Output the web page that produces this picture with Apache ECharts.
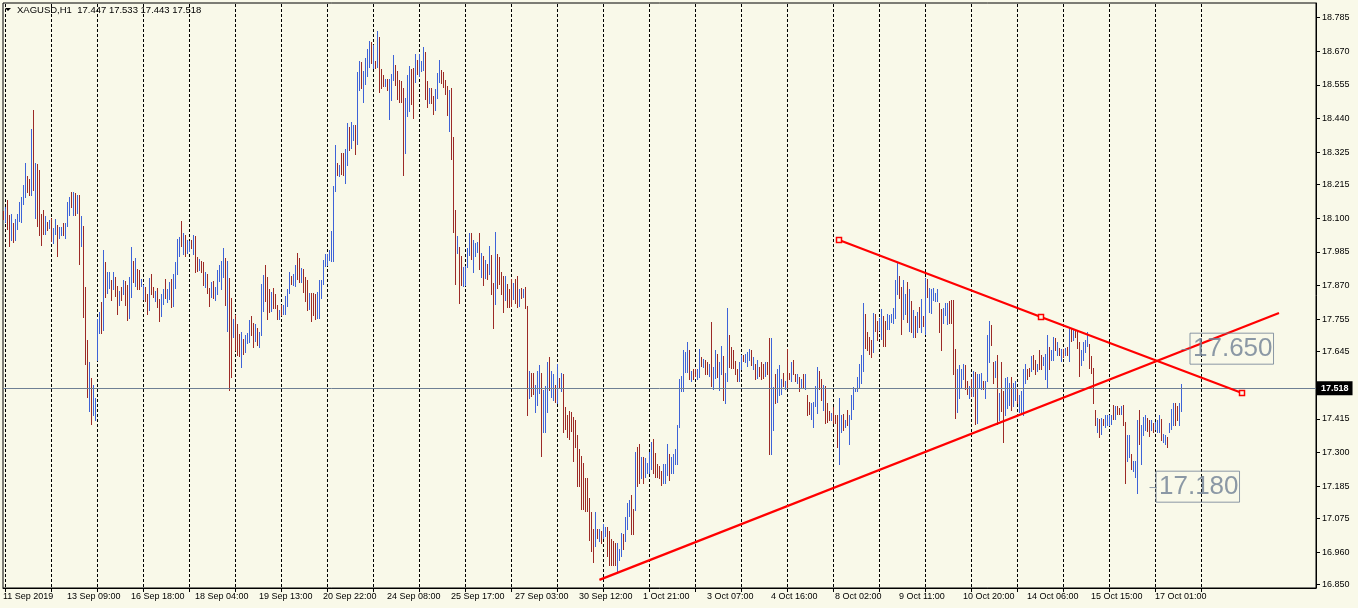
<!DOCTYPE html>
<html><head><meta charset="utf-8">
<script src="https://cdn.jsdelivr.net/npm/echarts@6/dist/echarts.min.js"></script>
<style>html,body{margin:0;padding:0;background:#F9F9E9;}#c{width:1358px;height:608px;}</style>
</head><body><div id="c"></div>
<script>
const headerText = 'XAGUSD,H1  17.447 17.533 17.443 17.518';
const bidPrice = 17.518;
const highs = [
18.126,18.140,18.164,18.112,18.115,18.085,18.098,18.115,18.157,18.174,
18.215,18.290,18.246,18.235,18.405,18.471,18.290,18.286,18.266,18.115,
18.129,18.109,18.088,18.095,18.102,18.068,18.098,18.078,18.071,18.071,
18.085,18.085,18.157,18.171,18.191,18.191,18.188,18.181,18.181,18.109,
18.075,17.867,17.686,17.608,17.556,17.532,17.485,17.757,17.781,17.815,
17.993,17.952,17.918,17.918,17.891,17.918,17.901,17.870,17.853,17.867,
17.891,17.887,17.874,17.901,18.003,17.955,17.966,17.928,17.925,17.894,
17.874,17.867,17.843,17.897,17.911,17.867,17.853,17.863,17.826,17.843,
17.857,17.894,17.860,17.884,17.894,17.911,17.952,18.030,18.037,18.092,
18.051,18.044,18.027,18.024,18.027,18.044,18.041,17.969,17.962,17.955,
17.952,17.915,17.911,17.863,17.884,17.887,17.867,17.925,17.942,17.955,
17.999,17.966,17.955,17.897,17.829,17.757,17.771,17.740,17.706,17.713,
17.689,17.703,17.710,17.754,17.768,17.744,17.740,17.727,17.713,17.877,
17.908,17.942,17.901,17.860,17.850,17.863,17.840,17.805,17.788,17.805,
17.805,17.836,17.860,17.918,17.904,17.911,17.942,17.983,17.966,17.932,
17.928,17.901,17.891,17.846,17.846,17.846,17.843,17.850,17.891,17.891,
17.959,17.979,17.979,17.993,18.058,18.211,18.351,18.290,18.283,18.324,
18.324,18.337,18.426,18.413,18.430,18.419,18.419,18.600,18.638,18.634,
18.604,18.648,18.679,18.706,18.703,18.692,18.638,18.740,18.720,18.611,
18.590,18.576,18.576,18.576,18.594,18.658,18.624,18.604,18.573,18.570,
18.546,18.512,18.590,18.621,18.610,18.614,18.662,18.641,18.662,18.638,
18.686,18.669,18.570,18.546,18.546,18.519,18.542,18.597,18.641,18.607,
18.600,18.573,18.553,18.539,18.546,18.379,18.129,18.041,18.003,17.973,
17.935,17.938,17.999,18.051,18.051,18.027,18.017,18.020,18.051,17.983,
17.973,17.959,17.945,18.007,17.976,17.880,18.054,17.979,17.969,17.915,
17.904,17.904,17.877,17.860,17.894,17.880,17.894,17.904,17.857,17.863,
17.860,17.867,17.802,17.580,17.573,17.573,17.532,17.580,17.601,17.573,
17.515,17.529,17.611,17.628,17.580,17.570,17.532,17.604,17.556,17.573,
17.570,17.457,17.430,17.444,17.440,17.423,17.410,17.362,17.314,17.290,
17.266,17.215,17.215,17.147,17.099,17.038,17.099,17.038,17.038,17.034,
17.058,17.048,17.048,17.034,17.004,16.997,16.993,16.993,16.973,17.027,
17.021,17.079,17.130,17.137,17.157,17.109,17.304,17.321,17.328,17.287,
17.287,17.283,17.266,17.304,17.335,17.348,17.300,17.263,17.256,17.239,
17.263,17.260,17.328,17.297,17.287,17.297,17.314,17.396,17.553,17.563,
17.652,17.645,17.679,17.649,17.580,17.584,17.587,17.584,17.655,17.625,
17.621,17.618,17.608,17.604,17.747,17.594,17.649,17.638,17.608,17.665,
17.631,17.573,17.795,17.700,17.662,17.649,17.614,17.587,17.611,17.635,
17.635,17.638,17.645,17.655,17.649,17.625,17.604,17.618,17.594,17.611,
17.604,17.611,17.611,17.693,17.693,17.525,17.570,17.584,17.601,17.550,
17.573,17.543,17.655,17.573,17.608,17.618,17.570,17.567,17.560,17.553,
17.570,17.570,17.498,17.474,17.471,17.474,17.529,17.594,17.580,17.550,
17.532,17.529,17.468,17.444,17.437,17.457,17.427,17.427,17.485,17.430,
17.433,17.413,17.447,17.430,17.498,17.525,17.522,17.560,17.604,17.635,
17.812,17.774,17.713,17.696,17.686,17.778,17.774,17.751,17.761,17.792,
17.768,17.751,17.774,17.771,17.774,17.795,17.891,17.949,17.904,17.867,
17.891,17.840,17.884,17.857,17.819,17.788,17.768,17.781,17.798,17.826,
17.768,17.897,17.894,17.863,17.857,17.863,17.846,17.860,17.812,17.792,
17.795,17.812,17.812,17.819,17.822,17.822,17.655,17.587,17.601,17.584,
17.604,17.601,17.543,17.529,17.550,17.580,17.577,17.570,17.567,17.573,
17.546,17.546,17.700,17.751,17.737,17.611,17.614,17.635,17.505,17.608,
17.509,17.556,17.560,17.539,17.560,17.539,17.543,17.519,17.498,17.509,
17.584,17.604,17.587,17.590,17.631,17.635,17.618,17.604,17.652,17.635,
17.628,17.638,17.703,17.662,17.649,17.696,17.693,17.679,17.659,17.655,
17.655,17.659,17.662,17.727,17.723,17.720,17.717,17.717,17.679,17.649,
17.679,17.686,17.713,17.672,17.631,17.590,17.447,17.420,17.416,17.420,
17.416,17.430,17.430,17.430,17.430,17.464,17.461,17.461,17.454,17.461,
17.464,17.406,17.362,17.362,17.294,17.270,17.273,17.413,17.447,17.396,
17.423,17.427,17.420,17.413,17.410,17.403,17.406,17.410,17.427,17.416,
17.365,17.362,17.355,17.403,17.450,17.468,17.468,17.461,17.471,17.533];
const lows = [
18.098,18.088,18.064,18.007,18.027,18.020,18.027,18.064,18.092,18.088,
18.150,18.171,18.191,18.178,18.178,18.198,18.102,18.075,18.044,18.010,
18.047,18.047,18.061,18.068,18.024,18.017,18.047,17.973,18.034,18.044,
18.044,18.034,18.075,18.112,18.137,18.112,18.112,18.119,17.945,18.007,
17.764,17.604,17.491,17.444,17.399,17.430,17.410,17.618,17.710,17.710,
17.720,17.833,17.846,17.863,17.822,17.857,17.836,17.774,17.805,17.822,
17.840,17.805,17.754,17.761,17.833,17.884,17.870,17.860,17.857,17.870,
17.826,17.819,17.774,17.788,17.840,17.833,17.819,17.798,17.751,17.768,
17.809,17.829,17.815,17.826,17.798,17.802,17.863,17.911,17.973,18.007,
17.979,17.973,17.983,17.990,18.000,17.979,17.915,17.921,17.925,17.918,
17.874,17.867,17.846,17.802,17.833,17.829,17.822,17.843,17.887,17.857,
17.901,17.805,17.717,17.515,17.560,17.696,17.652,17.635,17.631,17.594,
17.638,17.645,17.676,17.679,17.700,17.662,17.682,17.669,17.662,17.700,
17.785,17.819,17.757,17.781,17.785,17.795,17.795,17.757,17.757,17.771,
17.774,17.774,17.802,17.846,17.877,17.874,17.870,17.894,17.884,17.884,
17.850,17.819,17.788,17.792,17.751,17.771,17.757,17.761,17.761,17.829,
17.877,17.938,17.942,17.959,17.955,17.955,18.194,18.249,18.246,18.252,
18.249,18.222,18.283,18.334,18.341,18.368,18.320,18.355,18.539,18.546,
18.498,18.559,18.587,18.617,18.631,18.614,18.614,18.617,18.532,18.546,
18.553,18.553,18.539,18.440,18.505,18.573,18.556,18.508,18.498,18.498,
18.249,18.324,18.450,18.467,18.491,18.443,18.566,18.594,18.587,18.604,
18.607,18.508,18.481,18.495,18.495,18.457,18.471,18.512,18.566,18.563,
18.549,18.525,18.454,18.399,18.303,18.054,17.877,17.983,17.812,17.874,
17.870,17.874,17.935,17.976,17.962,17.918,17.973,17.986,17.928,17.901,
17.874,17.897,17.894,17.911,17.843,17.727,17.809,17.863,17.877,17.843,
17.781,17.822,17.798,17.798,17.802,17.826,17.812,17.798,17.802,17.829,
17.833,17.795,17.427,17.485,17.495,17.502,17.440,17.464,17.505,17.290,
17.372,17.372,17.440,17.515,17.491,17.481,17.474,17.471,17.525,17.512,
17.369,17.382,17.355,17.348,17.375,17.270,17.321,17.188,17.188,17.109,
17.109,17.102,17.102,17.001,16.966,16.928,16.983,17.010,17.000,16.993,
17.010,17.014,16.949,16.915,16.915,16.915,16.915,16.894,16.935,16.949,
16.973,16.997,17.038,17.085,17.021,17.021,17.106,17.188,17.195,17.212,
17.195,17.218,17.229,17.229,17.246,17.229,17.218,17.218,17.215,17.191,
17.198,17.198,17.225,17.208,17.229,17.229,17.263,17.263,17.389,17.512,
17.512,17.577,17.577,17.550,17.543,17.553,17.563,17.550,17.560,17.597,
17.594,17.567,17.567,17.563,17.526,17.519,17.556,17.560,17.515,17.567,
17.481,17.468,17.546,17.594,17.590,17.590,17.570,17.546,17.543,17.584,
17.614,17.611,17.597,17.618,17.601,17.584,17.553,17.556,17.563,17.553,
17.556,17.563,17.567,17.297,17.294,17.379,17.468,17.474,17.498,17.502,
17.529,17.519,17.522,17.553,17.543,17.567,17.543,17.539,17.509,17.522,
17.525,17.519,17.427,17.433,17.416,17.389,17.461,17.437,17.519,17.481,
17.447,17.403,17.406,17.410,17.413,17.403,17.403,17.321,17.263,17.372,
17.379,17.389,17.393,17.328,17.416,17.450,17.509,17.509,17.522,17.539,
17.580,17.659,17.652,17.638,17.628,17.645,17.717,17.686,17.720,17.689,
17.665,17.665,17.723,17.723,17.747,17.744,17.761,17.840,17.829,17.706,
17.757,17.774,17.747,17.717,17.713,17.696,17.696,17.713,17.730,17.713,
17.734,17.706,17.833,17.781,17.778,17.822,17.819,17.819,17.713,17.652,
17.744,17.771,17.740,17.744,17.744,17.570,17.420,17.440,17.485,17.522,
17.553,17.519,17.502,17.485,17.495,17.495,17.399,17.403,17.525,17.519,
17.519,17.488,17.543,17.608,17.669,17.539,17.560,17.399,17.413,17.444,
17.338,17.427,17.454,17.464,17.447,17.461,17.481,17.471,17.440,17.433,
17.427,17.539,17.550,17.563,17.580,17.587,17.570,17.580,17.584,17.584,
17.601,17.553,17.522,17.584,17.618,17.618,17.652,17.635,17.635,17.614,
17.628,17.635,17.635,17.614,17.682,17.686,17.696,17.659,17.563,17.601,
17.618,17.645,17.665,17.590,17.573,17.471,17.393,17.372,17.352,17.365,
17.393,17.389,17.393,17.396,17.399,17.416,17.416,17.433,17.433,17.433,
17.396,17.198,17.273,17.287,17.246,17.239,17.218,17.164,17.328,17.263,
17.362,17.379,17.375,17.358,17.379,17.369,17.382,17.372,17.372,17.345,
17.335,17.328,17.318,17.369,17.382,17.396,17.393,17.410,17.396,17.443];
const ups = [
0,1,0,0,1,0,1,1,1,1, 1,1,0,0,1,0,1,0,0,0, 0,1,0,1,0,1,1,0,1,1, 0,1,1,1,0,1,0,1,0,1,
0,0,0,1,0,1,1,1,1,0, 1,0,1,1,0,1,0,0,1,0, 1,0,0,1,1,0,1,0,0,1, 1,0,0,1,0,0,1,0,0,1,
1,0,1,1,0,1,1,1,1,0, 1,0,1,1,0,1,0,0,1,0, 0,1,0,0,1,0,1,1,1,1, 1,0,1,0,0,1,0,0,0,1,
0,1,1,1,0,0,1,0,1,1, 1,0,0,0,1,0,0,0,1,0, 1,1,1,1,0,1,1,0,0,1, 0,0,0,1,0,0,0,1,1,1,
1,1,1,1,1,1,1,0,1,0, 0,1,1,0,1,1,0,1,1,0, 1,1,1,1,0,1,0,1,0,0, 0,1,0,1,1,1,0,0,0,0,
0,1,1,1,0,0,1,0,1,1, 1,0,0,1,0,0,1,1,1,0, 0,0,0,1,0,0,0,1,0,0, 1,1,1,1,0,1,1,1,0,1,
0,1,0,1,0,0,1,0,0,0, 0,1,0,0,0,1,0,0,1,0, 1,0,0,1,0,0,1,1,1,0, 1,1,1,0,1,1,0,1,0,1,
0,0,0,0,0,0,0,0,0,0, 0,0,0,0,0,0,1,0,1,0, 1,1,0,0,0,0,0,1,1,1, 0,1,1,1,0,0,1,0,0,1,
0,1,1,1,1,0,0,0,0,0, 1,1,1,0,1,1,1,1,1,1, 1,1,1,0,1,0,0,1,1,0, 1,0,0,1,0,1,1,0,1,1,
0,1,1,0,0,0,0,0,1,1, 0,1,1,1,0,1,0,1,0,0, 0,1,0,0,1,1,0,1,1,1, 0,1,0,0,1,0,0,1,0,1,
0,1,0,0,1,1,1,1,0,0, 1,0,0,0,1,0,0,0,1,1, 0,1,0,1,1,1,1,1,1,1, 1,0,0,0,0,1,0,0,1,1,
0,0,1,1,1,1,1,1,0,0, 1,1,0,1,0,1,0,1,0,1, 0,1,0,1,1,1,1,1,0,0, 1,1,1,0,0,0,0,1,1,1,
1,0,0,1,0,1,0,1,1,1, 0,1,1,1,0,0,1,0,1,0, 0,1,1,1,0,1,1,0,1,1, 1,1,0,0,1,0,0,1,0,0,
1,1,1,0,1,1,0,1,0,1, 0,1,0,1,0,1,0,0,0,1, 1,1,1,0,0,0,0,1,0,1, 0,1,1,1,1,0,1,0,0,1,
0,0,1,1,0,1,1,1,0,1, 1,1,0,0,1,0,1,1,1,0, 1,1,0,1,1,1,0,0,1,1];
const xLabelIdx = [0,32,64,96,128,160,192,224,256,288,320,352,384,416,448,480,512,544,576];
const xLabels = ['11 Sep 2019','13 Sep 09:00','16 Sep 18:00','18 Sep 04:00','19 Sep 13:00','20 Sep 22:00',
  '24 Sep 08:00','25 Sep 17:00','27 Sep 03:00','30 Sep 12:00','1 Oct 21:00','3 Oct 07:00','4 Oct 16:00',
  '8 Oct 02:00','9 Oct 11:00','10 Oct 20:00','14 Oct 06:00','15 Oct 15:00','17 Oct 01:00'];
const gridIdx = [1,24,47,70,93,116,139,162,185,208,231,254,277,300,323,346,369,392,415,438,461,484,507,530,553,576,599];
const yTicks = [16.850,16.960,17.075,17.185,17.300,17.415,17.645,17.755,17.870,17.985,18.100,18.215,18.325,18.440,18.555,18.670,18.785];
const trendUp = [[298.2,16.866],[638,17.777]];
const trendDown = [[418,18.026],[519,17.763],[619.5,17.504]];
const noteTexts = ['17.650','17.180'];
const noteAnchors = [[593.5,17.655],[576.5,17.184]];
const noteMarks = [[591,17.652],[575,17.181]];

const BG = '#F9F9E9', UP = '#3E63D8', DOWN = '#9C2A26', SLATE = '#6F8094';
const FONT = '"Liberation Sans", Arial, sans-serif';
const bars = highs.map((h, i) => [i, h, lows[i], ups[i]]);

const chart = echarts.init(document.getElementById('c'), null, {renderer: 'canvas'});
chart.setOption({
  backgroundColor: BG,
  animation: false,
  grid: {left: 3, top: 3, width: 1313, height: 585, show: true, borderColor: '#000', borderWidth: 1, backgroundColor: 'transparent'},
  xAxis: {
    type: 'value', min: 0, max: 656.5, position: 'bottom',
    axisLine: {show: true, onZero: false, lineStyle: {color: '#000', width: 1}},
    axisTick: {show: true, length: 4, customValues: gridIdx, lineStyle: {color: '#000'}},
    axisLabel: {show: true, customValues: xLabelIdx, align: 'left', margin: 4, color: '#000', fontSize: 9, fontFamily: FONT,
      formatter: v => { const k = xLabelIdx.indexOf(Math.round(v)); return k >= 0 ? xLabels[k] : ''; }},
    splitLine: {show: false}
  },
  yAxis: {
    type: 'value', position: 'right', min: 16.8382, max: 18.8348, scale: true,
    axisLine: {show: true, onZero: false, lineStyle: {color: '#000', width: 1}},
    axisTick: {show: true, length: 4, customValues: yTicks, lineStyle: {color: '#000'}},
    axisLabel: {show: true, customValues: yTicks, margin: 6, color: '#000', fontSize: 9, fontFamily: FONT,
      formatter: v => v.toFixed(3)},
    splitLine: {show: false}
  },
  graphic: [
    {type: 'polygon', shape: {points: [[5, 8], [11, 8], [8, 11]]}, style: {fill: '#000'}},
    {type: 'text', left: 17, top: 5, style: {text: headerText, font: '9.5px ' + FONT, fill: '#000'}}
  ],
  series: [
    {
      type: 'custom', name: 'grid', silent: true, z: 1,
      data: gridIdx.map(v => [v]),
      encode: {x: 0},
      renderItem: (params, api) => {
        const c = api.coord([api.value(0), 17.5]);
        const cs = params.coordSys;
        const x = Math.round(c[0]) + 0.5;
        return {type: 'line', shape: {x1: x, y1: cs.y + 1, x2: x, y2: cs.y + cs.height}, style: {stroke: '#000', lineWidth: 1, lineDash: [3, 2]}};
      }
    },
    {
      type: 'custom', name: 'XAGUSD', z: 3,
      data: bars,
      encode: {x: 0, y: [1, 2]},
      renderItem: (params, api) => {
        const t = api.coord([api.value(0), api.value(1)]);
        const b = api.coord([api.value(0), api.value(2)]);
        const x = Math.round(t[0]) + 0.5;
        return {type: 'line', shape: {x1: x, y1: Math.round(t[1]), x2: x, y2: Math.round(b[1]) + 1},
          style: {stroke: api.value(3) ? UP : DOWN, lineWidth: 1}};
      },
      markLine: {
        silent: true, symbol: 'none', animation: false,
        data: [{yAxis: bidPrice}],
        lineStyle: {color: SLATE, width: 1, type: 'solid'},
        label: {show: true, position: 'end', distance: 1, formatter: bidPrice.toFixed(3), color: '#fff', backgroundColor: '#000',
          fontSize: 9, fontWeight: 'bold', fontFamily: FONT, padding: [3, 4, 2, 4]}
      }
    },
    {
      type: 'line', name: 'trendUp', z: 5, data: trendUp, symbol: 'none', silent: true,
      lineStyle: {color: '#FF0000', width: 2.2}
    },
    {
      type: 'line', name: 'trendDown', z: 5, data: trendDown, symbol: 'rect', symbolSize: 5, showAllSymbol: true, silent: true,
      lineStyle: {color: '#FF0000', width: 2.2},
      itemStyle: {color: BG, borderColor: '#FF0000', borderWidth: 1.5}
    },
    {
      type: 'scatter', name: 'noteMarks', z: 6, silent: true,
      data: noteMarks, symbol: 'rect', symbolSize: [7, 1],
      itemStyle: {color: SLATE}
    },
    {
      type: 'scatter', name: 'notes', z: 6, silent: true, symbolSize: 0,
      data: noteAnchors.map((a, i) => [a[0], a[1], noteTexts[i]]),
      label: {show: true, position: 'right', distance: 0, formatter: p => p.data[2], color: SLATE, fontSize: 26,
        fontFamily: FONT, borderColor: SLATE, borderWidth: 1, padding: [2, 1, 0, 3], lineHeight: 29}
    }
  ]
});
</script></body></html>
